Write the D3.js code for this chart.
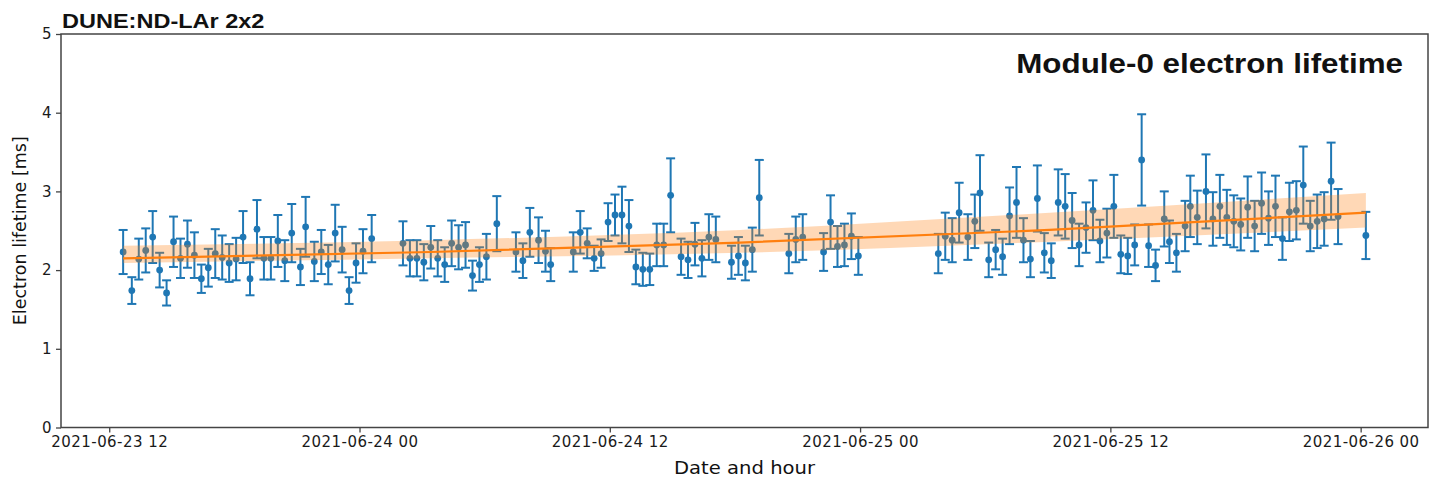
<!DOCTYPE html>
<html>
<head>
<meta charset="utf-8">
<script src="https://cdn.jsdelivr.net/npm/d3@7"></script>
<style>
  html, body { margin: 0; padding: 0; background: #fff; }
  svg { display: block; }
</style>
</head>
<body>
<svg id="chart" width="1430" height="479"></svg>
<script>
// Measurement timestamps (UTC)
const times = [
  "2021-06-23 12:40","2021-06-23 13:05","2021-06-23 13:25","2021-06-23 13:45","2021-06-23 14:05",
  "2021-06-23 14:25","2021-06-23 14:45","2021-06-23 15:05","2021-06-23 15:25","2021-06-23 15:45",
  "2021-06-23 16:05","2021-06-23 16:25","2021-06-23 16:45","2021-06-23 17:05","2021-06-23 17:25",
  "2021-06-23 17:45","2021-06-23 18:05","2021-06-23 18:25","2021-06-23 18:45","2021-06-23 19:05",
  "2021-06-23 19:25","2021-06-23 19:45","2021-06-23 20:05","2021-06-23 20:25","2021-06-23 20:45",
  "2021-06-23 21:10","2021-06-23 21:25","2021-06-23 21:50","2021-06-23 22:10","2021-06-23 22:30",
  "2021-06-23 22:50","2021-06-23 23:10","2021-06-23 23:30","2021-06-23 23:50","2021-06-24 00:10",
  "2021-06-24 00:35","2021-06-24 02:05","2021-06-24 02:25","2021-06-24 02:45","2021-06-24 03:05",
  "2021-06-24 03:25","2021-06-24 03:45","2021-06-24 04:05","2021-06-24 04:25","2021-06-24 04:45",
  "2021-06-24 05:05","2021-06-24 05:25","2021-06-24 05:45","2021-06-24 06:05","2021-06-24 06:35",
  "2021-06-24 07:30","2021-06-24 07:50","2021-06-24 08:10","2021-06-24 08:35","2021-06-24 08:55",
  "2021-06-24 09:10","2021-06-24 10:15","2021-06-24 10:35","2021-06-24 10:55","2021-06-24 11:15",
  "2021-06-24 11:35","2021-06-24 11:55","2021-06-24 12:15","2021-06-24 12:35","2021-06-24 12:55",
  "2021-06-24 13:15","2021-06-24 13:35","2021-06-24 13:55","2021-06-24 14:15","2021-06-24 14:35",
  "2021-06-24 14:55","2021-06-24 15:25","2021-06-24 15:45","2021-06-24 16:05","2021-06-24 16:25",
  "2021-06-24 16:45","2021-06-24 17:05","2021-06-24 17:50","2021-06-24 18:10","2021-06-24 18:30",
  "2021-06-24 18:50","2021-06-24 19:10","2021-06-24 20:35","2021-06-24 20:55","2021-06-24 21:15",
  "2021-06-24 22:15","2021-06-24 22:35","2021-06-24 22:55","2021-06-24 23:15","2021-06-24 23:35",
  "2021-06-24 23:55","2021-06-25 03:45","2021-06-25 04:05","2021-06-25 04:25","2021-06-25 04:45",
  "2021-06-25 05:10","2021-06-25 05:30","2021-06-25 05:45","2021-06-25 06:10","2021-06-25 06:30",
  "2021-06-25 06:50","2021-06-25 07:10","2021-06-25 07:30","2021-06-25 07:50","2021-06-25 08:10",
  "2021-06-25 08:30","2021-06-25 08:50","2021-06-25 09:10","2021-06-25 09:30","2021-06-25 09:50",
  "2021-06-25 10:10","2021-06-25 10:30","2021-06-25 10:50","2021-06-25 11:10","2021-06-25 11:30",
  "2021-06-25 11:50","2021-06-25 12:10","2021-06-25 12:30","2021-06-25 12:50","2021-06-25 13:10",
  "2021-06-25 13:30","2021-06-25 13:50","2021-06-25 14:10","2021-06-25 14:35","2021-06-25 14:50",
  "2021-06-25 15:10","2021-06-25 15:35","2021-06-25 15:50","2021-06-25 16:10","2021-06-25 16:35",
  "2021-06-25 16:55","2021-06-25 17:15","2021-06-25 17:35","2021-06-25 17:55","2021-06-25 18:15",
  "2021-06-25 18:35","2021-06-25 18:55","2021-06-25 19:15","2021-06-25 19:35","2021-06-25 19:55",
  "2021-06-25 20:15","2021-06-25 20:35","2021-06-25 20:55","2021-06-25 21:15","2021-06-25 21:35",
  "2021-06-25 21:55","2021-06-25 22:15","2021-06-25 22:35","2021-06-25 22:55","2021-06-26 00:15"
];

// Electron lifetime [ms]
const lifetime = [
  2.23,1.74,2.14,2.25,2.42,2.00,1.71,2.36,2.15,2.33,
  2.19,1.89,2.03,2.21,2.16,2.09,2.14,2.42,1.89,2.52,
  2.15,2.15,2.37,2.12,2.47,2.04,2.55,2.11,2.23,2.07,
  2.47,2.26,1.74,2.09,2.24,2.40,2.34,2.15,2.15,2.10,
  2.29,2.15,2.07,2.34,2.29,2.32,1.93,2.07,2.17,2.59,
  2.23,2.12,2.48,2.38,2.24,2.07,2.23,2.48,2.34,2.15,
  2.21,2.61,2.70,2.70,2.56,2.04,2.01,2.01,2.32,2.32,
  2.95,2.17,2.13,2.33,2.15,2.42,2.39,2.10,2.18,2.09,
  2.26,2.92,2.21,2.39,2.42,2.23,2.61,2.30,2.32,2.43,
  2.18,2.21,2.43,2.38,2.73,2.42,2.62,2.98,2.13,2.26,
  2.17,2.69,2.86,2.38,2.14,2.91,2.22,2.12,2.86,2.81,
  2.63,2.32,2.54,2.76,2.37,2.47,2.81,2.20,2.18,2.32,
  3.40,2.31,2.06,2.65,2.36,2.22,2.56,2.81,2.67,3.00,
  2.65,2.81,2.67,2.62,2.58,2.80,2.56,2.85,2.66,2.81,
  2.40,2.74,2.76,3.08,2.56,2.62,2.65,3.13,2.68,2.44
];

// Symmetric uncertainty on each lifetime [ms]
const lifetimeErr = [
  0.28,0.17,0.26,0.28,0.33,0.22,0.16,0.32,0.25,0.30,
  0.29,0.18,0.24,0.31,0.28,0.24,0.27,0.33,0.21,0.37,
  0.27,0.27,0.33,0.26,0.37,0.23,0.38,0.25,0.28,0.25,
  0.36,0.29,0.17,0.25,0.28,0.30,0.28,0.23,0.23,0.23,
  0.27,0.23,0.22,0.29,0.28,0.29,0.19,0.22,0.29,0.35,
  0.25,0.22,0.31,0.29,0.26,0.21,0.25,0.27,0.19,0.16,
  0.18,0.24,0.26,0.36,0.33,0.22,0.21,0.20,0.27,0.27,
  0.47,0.23,0.23,0.27,0.23,0.29,0.29,0.21,0.24,0.22,
  0.28,0.48,0.25,0.29,0.29,0.24,0.34,0.26,0.27,0.29,
  0.24,0.25,0.30,0.28,0.38,0.29,0.34,0.48,0.22,0.25,
  0.23,0.36,0.45,0.28,0.23,0.42,0.25,0.22,0.42,0.41,
  0.35,0.27,0.32,0.38,0.27,0.31,0.40,0.24,0.23,0.26,
  0.58,0.27,0.20,0.35,0.27,0.24,0.32,0.39,0.34,0.47,
  0.34,0.40,0.35,0.33,0.33,0.39,0.32,0.39,0.34,0.39,
  0.27,0.37,0.37,0.49,0.32,0.34,0.34,0.49,0.35,0.30
];

// Fitted trend and its uncertainty band
const fitTimes = ["2021-06-23 12:40","2021-06-24 03:25","2021-06-24 18:15","2021-06-25 09:05","2021-06-26 00:15"];
const fitLifetime = [2.15, 2.23, 2.35, 2.51, 2.73];
const fitLow  = [2.09, 2.15, 2.22, 2.36, 2.54];
const fitHigh = [2.31, 2.38, 2.51, 2.73, 2.98];

// Axis ticks
const yTicks = [0, 1, 2, 3, 4, 5];
const xTickTimes = ["2021-06-23 12:00","2021-06-24 00:00","2021-06-24 12:00","2021-06-25 00:00","2021-06-25 12:00","2021-06-26 00:00"];

const titleText = "DUNE:ND-LAr 2x2";
const panelText = "Module-0 electron lifetime";
const xLabel = "Date and hour";
const yLabel = "Electron lifetime [ms]";

// ---------------------------------------------------------------
const parse = d3.utcParse("%Y-%m-%d %H:%M");
const fmt = d3.utcFormat("%Y-%m-%d %H");

const points = times.map((t, i) => ({ t: parse(t), v: lifetime[i], e: lifetimeErr[i] }));
const fit = fitTimes.map((t, i) => ({ t: parse(t), v: fitLifetime[i], lo: fitLow[i], hi: fitHigh[i] }));

const svg = d3.select("#chart");
const plot = { left: 61, right: 1428, top: 34, bottom: 427.5 };

// time axis with 5% padding around the data, like matplotlib autoscaling
const ext = d3.extent(points, d => +d.t);
const pad = (ext[1] - ext[0]) * 0.05;
const x = d3.scaleUtc().domain([new Date(ext[0] - pad), new Date(ext[1] + pad)]).range([plot.left, plot.right]);
const y = d3.scaleLinear().domain([0, 5]).range([plot.bottom, plot.top]);

const blue = "#1f77b4";
const orange = "#ff7f0e";
const sx = 1.12; // horizontal stretch of the lettering

// Error bars
const eb = svg.append("g").attr("class", "errorbars").attr("stroke", blue).attr("stroke-width", 2).attr("fill", "none");
points.forEach(p => {
  const px = x(p.t);
  eb.append("line").attr("x1", px).attr("x2", px).attr("y1", y(p.v - p.e)).attr("y2", y(p.v + p.e));
  eb.append("line").attr("x1", px - 4.5).attr("x2", px + 4.5).attr("y1", y(p.v - p.e)).attr("y2", y(p.v - p.e));
  eb.append("line").attr("x1", px - 4.5).attr("x2", px + 4.5).attr("y1", y(p.v + p.e)).attr("y2", y(p.v + p.e));
});

// Markers
svg.append("g").attr("class", "markers")
  .selectAll("circle").data(points).join("circle")
  .attr("cx", d => x(d.t)).attr("cy", d => y(d.v)).attr("r", 3.4).attr("fill", blue);

// Uncertainty band of the fit, drawn over the points
svg.append("path").datum(fit)
  .attr("fill", orange).attr("fill-opacity", 0.3)
  .attr("d", d3.area().x(d => x(d.t)).y0(d => y(d.lo)).y1(d => y(d.hi)).curve(d3.curveMonotoneX));

// Fit line
svg.append("path").datum(fit)
  .attr("fill", "none").attr("stroke", orange).attr("stroke-width", 2.2)
  .attr("d", d3.line().x(d => x(d.t)).y(d => y(d.v)).curve(d3.curveMonotoneX));

// Axes
const xAxis = d3.axisBottom(x).tickValues(xTickTimes.map(parse)).tickFormat(fmt).tickSize(5).tickPadding(4);
const yAxis = d3.axisLeft(y).tickValues(yTicks).tickFormat(d3.format("d")).tickSize(5).tickPadding(4);

const gx = svg.append("g").attr("transform", `translate(0,${plot.bottom})`).call(xAxis);
const gy = svg.append("g").attr("transform", `translate(${plot.left},0)`).call(yAxis);
[gx, gy].forEach(g => {
  g.select(".domain").remove();
  g.selectAll(".tick line").attr("stroke", "#444").attr("stroke-width", 1.3);
  g.selectAll(".tick text").attr("fill", "#1a1a1a")
    .style("font-family", "'DejaVu Sans', sans-serif").style("font-size", "15px")
    .style("letter-spacing", "0.45px");
});

// Frame
svg.append("rect")
  .attr("x", plot.left).attr("y", plot.top)
  .attr("width", plot.right - plot.left).attr("height", plot.bottom - plot.top)
  .attr("fill", "none").attr("stroke", "#444").attr("stroke-width", 1.5);

function stretchedText(tx, ty, anchor, str, family, size, weight, rotate) {
  const g = svg.append("g").attr("transform",
    `translate(${tx},${ty})` + (rotate ? ` rotate(${rotate})` : "") + ` scale(${rotate ? 1 : sx},1)`);
  g.append("text").attr("text-anchor", anchor).attr("fill", "#111")
    .style("font-family", family).style("font-size", size + "px").style("font-weight", weight)
    .text(str);
}

// Axis labels
stretchedText((plot.left + plot.right) / 2, 474, "middle", xLabel, "'DejaVu Sans', sans-serif", 17.5, "normal");
stretchedText(26, (plot.top + plot.bottom) / 2, "middle", yLabel, "'DejaVu Sans', sans-serif", 17.5, "normal", -90);

// Titles
stretchedText(plot.left + 1, 28, "start", titleText, "'Liberation Sans', Arial, sans-serif", 21, "bold");
stretchedText(1403, 73, "end", panelText, "'Liberation Sans', Arial, sans-serif", 28, "bold");
</script>
</body>
</html>
